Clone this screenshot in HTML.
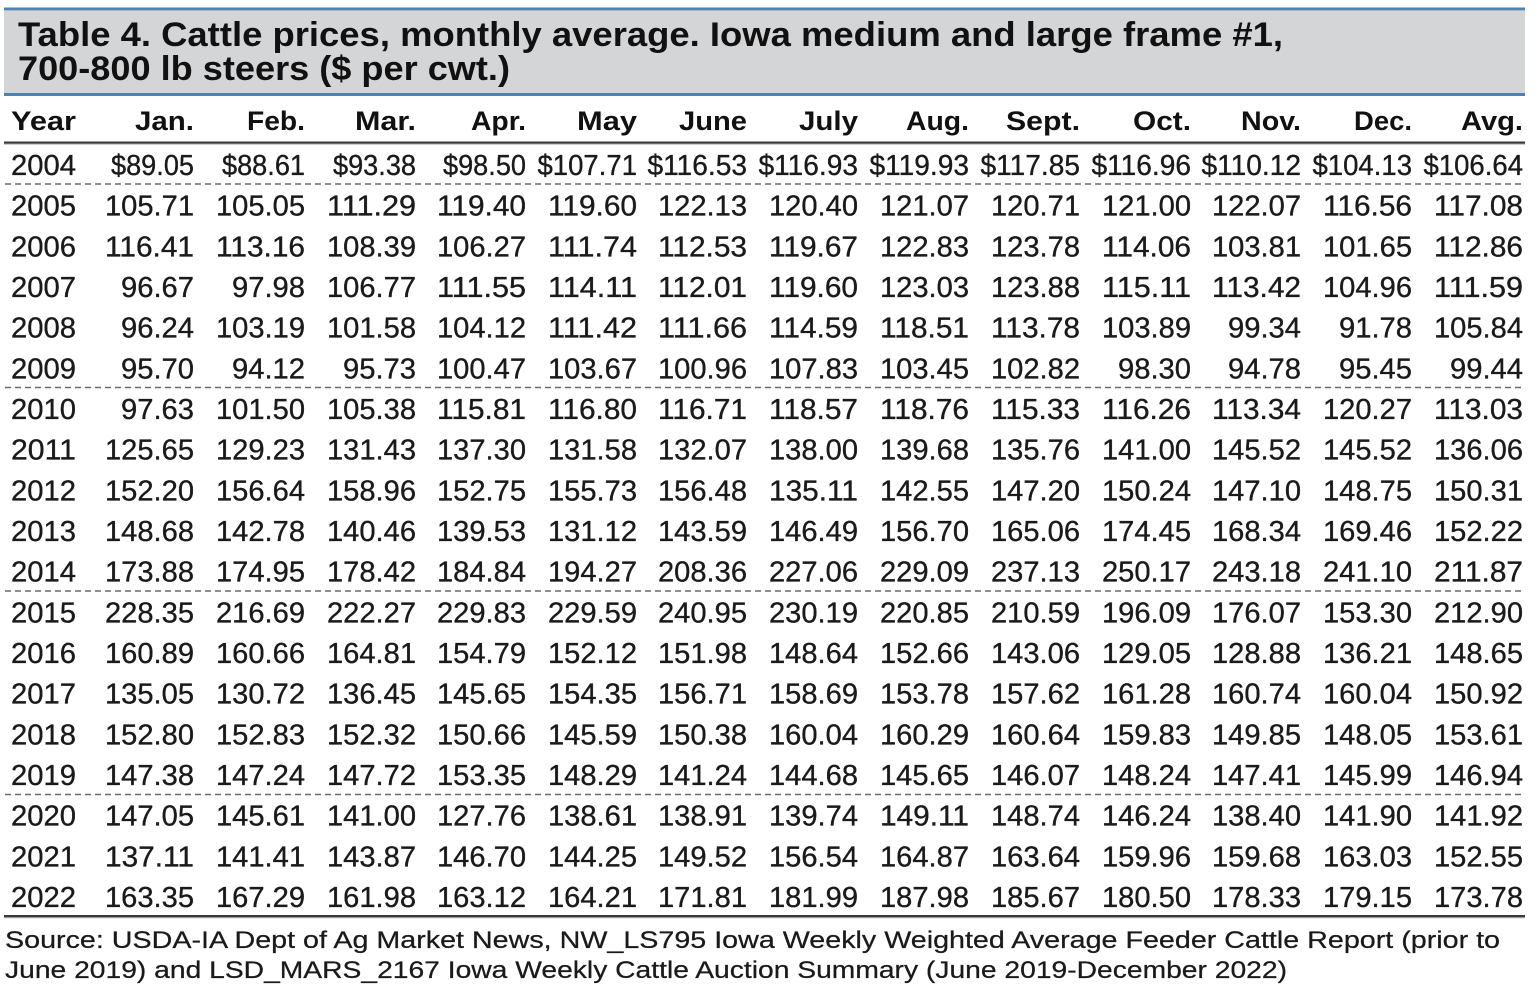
<!DOCTYPE html>
<html>
<head>
<meta charset="utf-8">
<style>
  html,body{margin:0;padding:0;background:#fff;}
  svg{display:block;}
  .t{font-family:"Liberation Sans",Arial,sans-serif;font-weight:bold;font-size:34px;fill:#111;}
  .h{font-family:"Liberation Sans",Arial,sans-serif;font-weight:bold;font-size:27px;fill:#111;text-anchor:end;}
  .hy{font-family:"Liberation Sans",Arial,sans-serif;font-weight:bold;font-size:27px;fill:#111;}
  .n{font-family:"Liberation Sans",Arial,sans-serif;font-size:29px;fill:#1a1a1a;text-anchor:end;stroke:#1a1a1a;stroke-width:0.35px;}
  .y{font-family:"Liberation Sans",Arial,sans-serif;font-size:29px;fill:#1a1a1a;stroke:#1a1a1a;stroke-width:0.35px;}
  .s{font-family:"Liberation Sans",Arial,sans-serif;font-size:24px;fill:#1a1a1a;stroke:#1a1a1a;stroke-width:0.25px;}
</style>
</head>
<body>
<svg width="1536" height="990" viewBox="0 0 1536 990" xmlns="http://www.w3.org/2000/svg">
  <rect x="0" y="0" width="1536" height="990" fill="#fff"/>
  <!-- Title band -->
  <rect x="4" y="9" width="1521" height="85" fill="#d4d5d7"/>
  <rect x="4" y="7.5" width="1521" height="2.8" fill="#4f80b2"/>
  <rect x="4" y="93" width="1521" height="3" fill="#4f80b2"/>
  <text class="t" x="18" y="46" textLength="1265" lengthAdjust="spacingAndGlyphs">Table 4. Cattle prices, monthly average. Iowa medium and large frame #1,</text>
  <text class="t" x="18" y="80" textLength="492" lengthAdjust="spacingAndGlyphs">700-800 lb steers ($ per cwt.)</text>

  <!-- Header -->
  <text class="hy" x="11" y="130" textLength="65" lengthAdjust="spacingAndGlyphs">Year</text>
  <text class="h" x="194" y="130" textLength="59" lengthAdjust="spacingAndGlyphs">Jan.</text>
  <text class="h" x="305" y="130" textLength="58" lengthAdjust="spacingAndGlyphs">Feb.</text>
  <text class="h" x="416" y="130" textLength="61" lengthAdjust="spacingAndGlyphs">Mar.</text>
  <text class="h" x="526" y="130" textLength="55" lengthAdjust="spacingAndGlyphs">Apr.</text>
  <text class="h" x="637" y="130" textLength="60" lengthAdjust="spacingAndGlyphs">May</text>
  <text class="h" x="747" y="130" textLength="68" lengthAdjust="spacingAndGlyphs">June</text>
  <text class="h" x="858" y="130" textLength="59" lengthAdjust="spacingAndGlyphs">July</text>
  <text class="h" x="969" y="130" textLength="63" lengthAdjust="spacingAndGlyphs">Aug.</text>
  <text class="h" x="1080" y="130" textLength="74" lengthAdjust="spacingAndGlyphs">Sept.</text>
  <text class="h" x="1191" y="130" textLength="58" lengthAdjust="spacingAndGlyphs">Oct.</text>
  <text class="h" x="1301" y="130" textLength="60" lengthAdjust="spacingAndGlyphs">Nov.</text>
  <text class="h" x="1412" y="130" textLength="58" lengthAdjust="spacingAndGlyphs">Dec.</text>
  <text class="h" x="1523" y="130" textLength="62" lengthAdjust="spacingAndGlyphs">Avg.</text>
  <rect x="4" y="141.5" width="1521" height="2" fill="#3a3a3a"/>
  <rect x="4" y="143.5" width="1521" height="1" fill="#9a9a9a"/>

  <!-- Dashed separators -->
  <g stroke="#6a6a6a" stroke-width="1.6" stroke-dasharray="6 4">
    <line x1="5" y1="184" x2="1525" y2="184"/>
    <line x1="5" y1="387.5" x2="1525" y2="387.5"/>
    <line x1="5" y1="591" x2="1525" y2="591"/>
    <line x1="5" y1="794.5" x2="1525" y2="794.5"/>
  </g>

  <!-- 2004 -->
  <g transform="translate(0,175)">
    <text class="y" x="11" y="0" textLength="65" lengthAdjust="spacingAndGlyphs">2004</text>
    <text class="n" x="194" textLength="83" lengthAdjust="spacingAndGlyphs">$89.05</text>
    <text class="n" x="305" textLength="83" lengthAdjust="spacingAndGlyphs">$88.61</text>
    <text class="n" x="416" textLength="83" lengthAdjust="spacingAndGlyphs">$93.38</text>
    <text class="n" x="526" textLength="83" lengthAdjust="spacingAndGlyphs">$98.50</text>
    <text class="n" x="637" textLength="99.5" lengthAdjust="spacingAndGlyphs">$107.71</text>
    <text class="n" x="747" textLength="99.5" lengthAdjust="spacingAndGlyphs">$116.53</text>
    <text class="n" x="858" textLength="99.5" lengthAdjust="spacingAndGlyphs">$116.93</text>
    <text class="n" x="969" textLength="99.5" lengthAdjust="spacingAndGlyphs">$119.93</text>
    <text class="n" x="1080" textLength="99.5" lengthAdjust="spacingAndGlyphs">$117.85</text>
    <text class="n" x="1191" textLength="99.5" lengthAdjust="spacingAndGlyphs">$116.96</text>
    <text class="n" x="1301" textLength="99.5" lengthAdjust="spacingAndGlyphs">$110.12</text>
    <text class="n" x="1412" textLength="99.5" lengthAdjust="spacingAndGlyphs">$104.13</text>
    <text class="n" x="1523" textLength="99.5" lengthAdjust="spacingAndGlyphs">$106.64</text>
  </g>
  <!-- 2005 -->
  <g transform="translate(0,215.7)">
    <text class="y" x="11" textLength="65" lengthAdjust="spacingAndGlyphs">2005</text>
    <text class="n" x="194" textLength="89" lengthAdjust="spacingAndGlyphs">105.71</text>
    <text class="n" x="305" textLength="89" lengthAdjust="spacingAndGlyphs">105.05</text>
    <text class="n" x="416" textLength="89" lengthAdjust="spacingAndGlyphs">111.29</text>
    <text class="n" x="526" textLength="89" lengthAdjust="spacingAndGlyphs">119.40</text>
    <text class="n" x="637" textLength="89" lengthAdjust="spacingAndGlyphs">119.60</text>
    <text class="n" x="747" textLength="89" lengthAdjust="spacingAndGlyphs">122.13</text>
    <text class="n" x="858" textLength="89" lengthAdjust="spacingAndGlyphs">120.40</text>
    <text class="n" x="969" textLength="89" lengthAdjust="spacingAndGlyphs">121.07</text>
    <text class="n" x="1080" textLength="89" lengthAdjust="spacingAndGlyphs">120.71</text>
    <text class="n" x="1191" textLength="89" lengthAdjust="spacingAndGlyphs">121.00</text>
    <text class="n" x="1301" textLength="89" lengthAdjust="spacingAndGlyphs">122.07</text>
    <text class="n" x="1412" textLength="89" lengthAdjust="spacingAndGlyphs">116.56</text>
    <text class="n" x="1523" textLength="89" lengthAdjust="spacingAndGlyphs">117.08</text>
  </g>
  <!-- 2006 -->
  <g transform="translate(0,256.3)">
    <text class="y" x="11" textLength="65" lengthAdjust="spacingAndGlyphs">2006</text>
    <text class="n" x="194" textLength="89" lengthAdjust="spacingAndGlyphs">116.41</text>
    <text class="n" x="305" textLength="89" lengthAdjust="spacingAndGlyphs">113.16</text>
    <text class="n" x="416" textLength="89" lengthAdjust="spacingAndGlyphs">108.39</text>
    <text class="n" x="526" textLength="89" lengthAdjust="spacingAndGlyphs">106.27</text>
    <text class="n" x="637" textLength="89" lengthAdjust="spacingAndGlyphs">111.74</text>
    <text class="n" x="747" textLength="89" lengthAdjust="spacingAndGlyphs">112.53</text>
    <text class="n" x="858" textLength="89" lengthAdjust="spacingAndGlyphs">119.67</text>
    <text class="n" x="969" textLength="89" lengthAdjust="spacingAndGlyphs">122.83</text>
    <text class="n" x="1080" textLength="89" lengthAdjust="spacingAndGlyphs">123.78</text>
    <text class="n" x="1191" textLength="89" lengthAdjust="spacingAndGlyphs">114.06</text>
    <text class="n" x="1301" textLength="89" lengthAdjust="spacingAndGlyphs">103.81</text>
    <text class="n" x="1412" textLength="89" lengthAdjust="spacingAndGlyphs">101.65</text>
    <text class="n" x="1523" textLength="89" lengthAdjust="spacingAndGlyphs">112.86</text>
  </g>
  <!-- 2007 -->
  <g transform="translate(0,297)">
    <text class="y" x="11" textLength="65" lengthAdjust="spacingAndGlyphs">2007</text>
    <text class="n" x="194" textLength="73" lengthAdjust="spacingAndGlyphs">96.67</text>
    <text class="n" x="305" textLength="73" lengthAdjust="spacingAndGlyphs">97.98</text>
    <text class="n" x="416" textLength="89" lengthAdjust="spacingAndGlyphs">106.77</text>
    <text class="n" x="526" textLength="89" lengthAdjust="spacingAndGlyphs">111.55</text>
    <text class="n" x="637" textLength="89" lengthAdjust="spacingAndGlyphs">114.11</text>
    <text class="n" x="747" textLength="89" lengthAdjust="spacingAndGlyphs">112.01</text>
    <text class="n" x="858" textLength="89" lengthAdjust="spacingAndGlyphs">119.60</text>
    <text class="n" x="969" textLength="89" lengthAdjust="spacingAndGlyphs">123.03</text>
    <text class="n" x="1080" textLength="89" lengthAdjust="spacingAndGlyphs">123.88</text>
    <text class="n" x="1191" textLength="89" lengthAdjust="spacingAndGlyphs">115.11</text>
    <text class="n" x="1301" textLength="89" lengthAdjust="spacingAndGlyphs">113.42</text>
    <text class="n" x="1412" textLength="89" lengthAdjust="spacingAndGlyphs">104.96</text>
    <text class="n" x="1523" textLength="89" lengthAdjust="spacingAndGlyphs">111.59</text>
  </g>
  <!-- 2008 -->
  <g transform="translate(0,337.7)">
    <text class="y" x="11" textLength="65" lengthAdjust="spacingAndGlyphs">2008</text>
    <text class="n" x="194" textLength="73" lengthAdjust="spacingAndGlyphs">96.24</text>
    <text class="n" x="305" textLength="89" lengthAdjust="spacingAndGlyphs">103.19</text>
    <text class="n" x="416" textLength="89" lengthAdjust="spacingAndGlyphs">101.58</text>
    <text class="n" x="526" textLength="89" lengthAdjust="spacingAndGlyphs">104.12</text>
    <text class="n" x="637" textLength="89" lengthAdjust="spacingAndGlyphs">111.42</text>
    <text class="n" x="747" textLength="89" lengthAdjust="spacingAndGlyphs">111.66</text>
    <text class="n" x="858" textLength="89" lengthAdjust="spacingAndGlyphs">114.59</text>
    <text class="n" x="969" textLength="89" lengthAdjust="spacingAndGlyphs">118.51</text>
    <text class="n" x="1080" textLength="89" lengthAdjust="spacingAndGlyphs">113.78</text>
    <text class="n" x="1191" textLength="89" lengthAdjust="spacingAndGlyphs">103.89</text>
    <text class="n" x="1301" textLength="73" lengthAdjust="spacingAndGlyphs">99.34</text>
    <text class="n" x="1412" textLength="73" lengthAdjust="spacingAndGlyphs">91.78</text>
    <text class="n" x="1523" textLength="89" lengthAdjust="spacingAndGlyphs">105.84</text>
  </g>
  <!-- 2009 -->
  <g transform="translate(0,378.3)">
    <text class="y" x="11" textLength="65" lengthAdjust="spacingAndGlyphs">2009</text>
    <text class="n" x="194" textLength="73" lengthAdjust="spacingAndGlyphs">95.70</text>
    <text class="n" x="305" textLength="73" lengthAdjust="spacingAndGlyphs">94.12</text>
    <text class="n" x="416" textLength="73" lengthAdjust="spacingAndGlyphs">95.73</text>
    <text class="n" x="526" textLength="89" lengthAdjust="spacingAndGlyphs">100.47</text>
    <text class="n" x="637" textLength="89" lengthAdjust="spacingAndGlyphs">103.67</text>
    <text class="n" x="747" textLength="89" lengthAdjust="spacingAndGlyphs">100.96</text>
    <text class="n" x="858" textLength="89" lengthAdjust="spacingAndGlyphs">107.83</text>
    <text class="n" x="969" textLength="89" lengthAdjust="spacingAndGlyphs">103.45</text>
    <text class="n" x="1080" textLength="89" lengthAdjust="spacingAndGlyphs">102.82</text>
    <text class="n" x="1191" textLength="73" lengthAdjust="spacingAndGlyphs">98.30</text>
    <text class="n" x="1301" textLength="73" lengthAdjust="spacingAndGlyphs">94.78</text>
    <text class="n" x="1412" textLength="73" lengthAdjust="spacingAndGlyphs">95.45</text>
    <text class="n" x="1523" textLength="73" lengthAdjust="spacingAndGlyphs">99.44</text>
  </g>
  <!-- 2010 -->
  <g transform="translate(0,419)">
    <text class="y" x="11" textLength="65" lengthAdjust="spacingAndGlyphs">2010</text>
    <text class="n" x="194" textLength="73" lengthAdjust="spacingAndGlyphs">97.63</text>
    <text class="n" x="305" textLength="89" lengthAdjust="spacingAndGlyphs">101.50</text>
    <text class="n" x="416" textLength="89" lengthAdjust="spacingAndGlyphs">105.38</text>
    <text class="n" x="526" textLength="89" lengthAdjust="spacingAndGlyphs">115.81</text>
    <text class="n" x="637" textLength="89" lengthAdjust="spacingAndGlyphs">116.80</text>
    <text class="n" x="747" textLength="89" lengthAdjust="spacingAndGlyphs">116.71</text>
    <text class="n" x="858" textLength="89" lengthAdjust="spacingAndGlyphs">118.57</text>
    <text class="n" x="969" textLength="89" lengthAdjust="spacingAndGlyphs">118.76</text>
    <text class="n" x="1080" textLength="89" lengthAdjust="spacingAndGlyphs">115.33</text>
    <text class="n" x="1191" textLength="89" lengthAdjust="spacingAndGlyphs">116.26</text>
    <text class="n" x="1301" textLength="89" lengthAdjust="spacingAndGlyphs">113.34</text>
    <text class="n" x="1412" textLength="89" lengthAdjust="spacingAndGlyphs">120.27</text>
    <text class="n" x="1523" textLength="89" lengthAdjust="spacingAndGlyphs">113.03</text>
  </g>
  <!-- 2011 -->
  <g transform="translate(0,459.7)">
    <text class="y" x="11" textLength="65" lengthAdjust="spacingAndGlyphs">2011</text>
    <text class="n" x="194" textLength="89" lengthAdjust="spacingAndGlyphs">125.65</text>
    <text class="n" x="305" textLength="89" lengthAdjust="spacingAndGlyphs">129.23</text>
    <text class="n" x="416" textLength="89" lengthAdjust="spacingAndGlyphs">131.43</text>
    <text class="n" x="526" textLength="89" lengthAdjust="spacingAndGlyphs">137.30</text>
    <text class="n" x="637" textLength="89" lengthAdjust="spacingAndGlyphs">131.58</text>
    <text class="n" x="747" textLength="89" lengthAdjust="spacingAndGlyphs">132.07</text>
    <text class="n" x="858" textLength="89" lengthAdjust="spacingAndGlyphs">138.00</text>
    <text class="n" x="969" textLength="89" lengthAdjust="spacingAndGlyphs">139.68</text>
    <text class="n" x="1080" textLength="89" lengthAdjust="spacingAndGlyphs">135.76</text>
    <text class="n" x="1191" textLength="89" lengthAdjust="spacingAndGlyphs">141.00</text>
    <text class="n" x="1301" textLength="89" lengthAdjust="spacingAndGlyphs">145.52</text>
    <text class="n" x="1412" textLength="89" lengthAdjust="spacingAndGlyphs">145.52</text>
    <text class="n" x="1523" textLength="89" lengthAdjust="spacingAndGlyphs">136.06</text>
  </g>
  <!-- 2012 -->
  <g transform="translate(0,500.4)">
    <text class="y" x="11" textLength="65" lengthAdjust="spacingAndGlyphs">2012</text>
    <text class="n" x="194" textLength="89" lengthAdjust="spacingAndGlyphs">152.20</text>
    <text class="n" x="305" textLength="89" lengthAdjust="spacingAndGlyphs">156.64</text>
    <text class="n" x="416" textLength="89" lengthAdjust="spacingAndGlyphs">158.96</text>
    <text class="n" x="526" textLength="89" lengthAdjust="spacingAndGlyphs">152.75</text>
    <text class="n" x="637" textLength="89" lengthAdjust="spacingAndGlyphs">155.73</text>
    <text class="n" x="747" textLength="89" lengthAdjust="spacingAndGlyphs">156.48</text>
    <text class="n" x="858" textLength="89" lengthAdjust="spacingAndGlyphs">135.11</text>
    <text class="n" x="969" textLength="89" lengthAdjust="spacingAndGlyphs">142.55</text>
    <text class="n" x="1080" textLength="89" lengthAdjust="spacingAndGlyphs">147.20</text>
    <text class="n" x="1191" textLength="89" lengthAdjust="spacingAndGlyphs">150.24</text>
    <text class="n" x="1301" textLength="89" lengthAdjust="spacingAndGlyphs">147.10</text>
    <text class="n" x="1412" textLength="89" lengthAdjust="spacingAndGlyphs">148.75</text>
    <text class="n" x="1523" textLength="89" lengthAdjust="spacingAndGlyphs">150.31</text>
  </g>
  <!-- 2013 -->
  <g transform="translate(0,541)">
    <text class="y" x="11" textLength="65" lengthAdjust="spacingAndGlyphs">2013</text>
    <text class="n" x="194" textLength="89" lengthAdjust="spacingAndGlyphs">148.68</text>
    <text class="n" x="305" textLength="89" lengthAdjust="spacingAndGlyphs">142.78</text>
    <text class="n" x="416" textLength="89" lengthAdjust="spacingAndGlyphs">140.46</text>
    <text class="n" x="526" textLength="89" lengthAdjust="spacingAndGlyphs">139.53</text>
    <text class="n" x="637" textLength="89" lengthAdjust="spacingAndGlyphs">131.12</text>
    <text class="n" x="747" textLength="89" lengthAdjust="spacingAndGlyphs">143.59</text>
    <text class="n" x="858" textLength="89" lengthAdjust="spacingAndGlyphs">146.49</text>
    <text class="n" x="969" textLength="89" lengthAdjust="spacingAndGlyphs">156.70</text>
    <text class="n" x="1080" textLength="89" lengthAdjust="spacingAndGlyphs">165.06</text>
    <text class="n" x="1191" textLength="89" lengthAdjust="spacingAndGlyphs">174.45</text>
    <text class="n" x="1301" textLength="89" lengthAdjust="spacingAndGlyphs">168.34</text>
    <text class="n" x="1412" textLength="89" lengthAdjust="spacingAndGlyphs">169.46</text>
    <text class="n" x="1523" textLength="89" lengthAdjust="spacingAndGlyphs">152.22</text>
  </g>
  <!-- 2014 -->
  <g transform="translate(0,581.7)">
    <text class="y" x="11" textLength="65" lengthAdjust="spacingAndGlyphs">2014</text>
    <text class="n" x="194" textLength="89" lengthAdjust="spacingAndGlyphs">173.88</text>
    <text class="n" x="305" textLength="89" lengthAdjust="spacingAndGlyphs">174.95</text>
    <text class="n" x="416" textLength="89" lengthAdjust="spacingAndGlyphs">178.42</text>
    <text class="n" x="526" textLength="89" lengthAdjust="spacingAndGlyphs">184.84</text>
    <text class="n" x="637" textLength="89" lengthAdjust="spacingAndGlyphs">194.27</text>
    <text class="n" x="747" textLength="89" lengthAdjust="spacingAndGlyphs">208.36</text>
    <text class="n" x="858" textLength="89" lengthAdjust="spacingAndGlyphs">227.06</text>
    <text class="n" x="969" textLength="89" lengthAdjust="spacingAndGlyphs">229.09</text>
    <text class="n" x="1080" textLength="89" lengthAdjust="spacingAndGlyphs">237.13</text>
    <text class="n" x="1191" textLength="89" lengthAdjust="spacingAndGlyphs">250.17</text>
    <text class="n" x="1301" textLength="89" lengthAdjust="spacingAndGlyphs">243.18</text>
    <text class="n" x="1412" textLength="89" lengthAdjust="spacingAndGlyphs">241.10</text>
    <text class="n" x="1523" textLength="89" lengthAdjust="spacingAndGlyphs">211.87</text>
  </g>
  <!-- 2015 -->
  <g transform="translate(0,622.4)">
    <text class="y" x="11" textLength="65" lengthAdjust="spacingAndGlyphs">2015</text>
    <text class="n" x="194" textLength="89" lengthAdjust="spacingAndGlyphs">228.35</text>
    <text class="n" x="305" textLength="89" lengthAdjust="spacingAndGlyphs">216.69</text>
    <text class="n" x="416" textLength="89" lengthAdjust="spacingAndGlyphs">222.27</text>
    <text class="n" x="526" textLength="89" lengthAdjust="spacingAndGlyphs">229.83</text>
    <text class="n" x="637" textLength="89" lengthAdjust="spacingAndGlyphs">229.59</text>
    <text class="n" x="747" textLength="89" lengthAdjust="spacingAndGlyphs">240.95</text>
    <text class="n" x="858" textLength="89" lengthAdjust="spacingAndGlyphs">230.19</text>
    <text class="n" x="969" textLength="89" lengthAdjust="spacingAndGlyphs">220.85</text>
    <text class="n" x="1080" textLength="89" lengthAdjust="spacingAndGlyphs">210.59</text>
    <text class="n" x="1191" textLength="89" lengthAdjust="spacingAndGlyphs">196.09</text>
    <text class="n" x="1301" textLength="89" lengthAdjust="spacingAndGlyphs">176.07</text>
    <text class="n" x="1412" textLength="89" lengthAdjust="spacingAndGlyphs">153.30</text>
    <text class="n" x="1523" textLength="89" lengthAdjust="spacingAndGlyphs">212.90</text>
  </g>
  <!-- 2016 -->
  <g transform="translate(0,663)">
    <text class="y" x="11" textLength="65" lengthAdjust="spacingAndGlyphs">2016</text>
    <text class="n" x="194" textLength="89" lengthAdjust="spacingAndGlyphs">160.89</text>
    <text class="n" x="305" textLength="89" lengthAdjust="spacingAndGlyphs">160.66</text>
    <text class="n" x="416" textLength="89" lengthAdjust="spacingAndGlyphs">164.81</text>
    <text class="n" x="526" textLength="89" lengthAdjust="spacingAndGlyphs">154.79</text>
    <text class="n" x="637" textLength="89" lengthAdjust="spacingAndGlyphs">152.12</text>
    <text class="n" x="747" textLength="89" lengthAdjust="spacingAndGlyphs">151.98</text>
    <text class="n" x="858" textLength="89" lengthAdjust="spacingAndGlyphs">148.64</text>
    <text class="n" x="969" textLength="89" lengthAdjust="spacingAndGlyphs">152.66</text>
    <text class="n" x="1080" textLength="89" lengthAdjust="spacingAndGlyphs">143.06</text>
    <text class="n" x="1191" textLength="89" lengthAdjust="spacingAndGlyphs">129.05</text>
    <text class="n" x="1301" textLength="89" lengthAdjust="spacingAndGlyphs">128.88</text>
    <text class="n" x="1412" textLength="89" lengthAdjust="spacingAndGlyphs">136.21</text>
    <text class="n" x="1523" textLength="89" lengthAdjust="spacingAndGlyphs">148.65</text>
  </g>
  <!-- 2017 -->
  <g transform="translate(0,703.7)">
    <text class="y" x="11" textLength="65" lengthAdjust="spacingAndGlyphs">2017</text>
    <text class="n" x="194" textLength="89" lengthAdjust="spacingAndGlyphs">135.05</text>
    <text class="n" x="305" textLength="89" lengthAdjust="spacingAndGlyphs">130.72</text>
    <text class="n" x="416" textLength="89" lengthAdjust="spacingAndGlyphs">136.45</text>
    <text class="n" x="526" textLength="89" lengthAdjust="spacingAndGlyphs">145.65</text>
    <text class="n" x="637" textLength="89" lengthAdjust="spacingAndGlyphs">154.35</text>
    <text class="n" x="747" textLength="89" lengthAdjust="spacingAndGlyphs">156.71</text>
    <text class="n" x="858" textLength="89" lengthAdjust="spacingAndGlyphs">158.69</text>
    <text class="n" x="969" textLength="89" lengthAdjust="spacingAndGlyphs">153.78</text>
    <text class="n" x="1080" textLength="89" lengthAdjust="spacingAndGlyphs">157.62</text>
    <text class="n" x="1191" textLength="89" lengthAdjust="spacingAndGlyphs">161.28</text>
    <text class="n" x="1301" textLength="89" lengthAdjust="spacingAndGlyphs">160.74</text>
    <text class="n" x="1412" textLength="89" lengthAdjust="spacingAndGlyphs">160.04</text>
    <text class="n" x="1523" textLength="89" lengthAdjust="spacingAndGlyphs">150.92</text>
  </g>
  <!-- 2018 -->
  <g transform="translate(0,744.4)">
    <text class="y" x="11" textLength="65" lengthAdjust="spacingAndGlyphs">2018</text>
    <text class="n" x="194" textLength="89" lengthAdjust="spacingAndGlyphs">152.80</text>
    <text class="n" x="305" textLength="89" lengthAdjust="spacingAndGlyphs">152.83</text>
    <text class="n" x="416" textLength="89" lengthAdjust="spacingAndGlyphs">152.32</text>
    <text class="n" x="526" textLength="89" lengthAdjust="spacingAndGlyphs">150.66</text>
    <text class="n" x="637" textLength="89" lengthAdjust="spacingAndGlyphs">145.59</text>
    <text class="n" x="747" textLength="89" lengthAdjust="spacingAndGlyphs">150.38</text>
    <text class="n" x="858" textLength="89" lengthAdjust="spacingAndGlyphs">160.04</text>
    <text class="n" x="969" textLength="89" lengthAdjust="spacingAndGlyphs">160.29</text>
    <text class="n" x="1080" textLength="89" lengthAdjust="spacingAndGlyphs">160.64</text>
    <text class="n" x="1191" textLength="89" lengthAdjust="spacingAndGlyphs">159.83</text>
    <text class="n" x="1301" textLength="89" lengthAdjust="spacingAndGlyphs">149.85</text>
    <text class="n" x="1412" textLength="89" lengthAdjust="spacingAndGlyphs">148.05</text>
    <text class="n" x="1523" textLength="89" lengthAdjust="spacingAndGlyphs">153.61</text>
  </g>
  <!-- 2019 -->
  <g transform="translate(0,785)">
    <text class="y" x="11" textLength="65" lengthAdjust="spacingAndGlyphs">2019</text>
    <text class="n" x="194" textLength="89" lengthAdjust="spacingAndGlyphs">147.38</text>
    <text class="n" x="305" textLength="89" lengthAdjust="spacingAndGlyphs">147.24</text>
    <text class="n" x="416" textLength="89" lengthAdjust="spacingAndGlyphs">147.72</text>
    <text class="n" x="526" textLength="89" lengthAdjust="spacingAndGlyphs">153.35</text>
    <text class="n" x="637" textLength="89" lengthAdjust="spacingAndGlyphs">148.29</text>
    <text class="n" x="747" textLength="89" lengthAdjust="spacingAndGlyphs">141.24</text>
    <text class="n" x="858" textLength="89" lengthAdjust="spacingAndGlyphs">144.68</text>
    <text class="n" x="969" textLength="89" lengthAdjust="spacingAndGlyphs">145.65</text>
    <text class="n" x="1080" textLength="89" lengthAdjust="spacingAndGlyphs">146.07</text>
    <text class="n" x="1191" textLength="89" lengthAdjust="spacingAndGlyphs">148.24</text>
    <text class="n" x="1301" textLength="89" lengthAdjust="spacingAndGlyphs">147.41</text>
    <text class="n" x="1412" textLength="89" lengthAdjust="spacingAndGlyphs">145.99</text>
    <text class="n" x="1523" textLength="89" lengthAdjust="spacingAndGlyphs">146.94</text>
  </g>
  <!-- 2020 -->
  <g transform="translate(0,825.7)">
    <text class="y" x="11" textLength="65" lengthAdjust="spacingAndGlyphs">2020</text>
    <text class="n" x="194" textLength="89" lengthAdjust="spacingAndGlyphs">147.05</text>
    <text class="n" x="305" textLength="89" lengthAdjust="spacingAndGlyphs">145.61</text>
    <text class="n" x="416" textLength="89" lengthAdjust="spacingAndGlyphs">141.00</text>
    <text class="n" x="526" textLength="89" lengthAdjust="spacingAndGlyphs">127.76</text>
    <text class="n" x="637" textLength="89" lengthAdjust="spacingAndGlyphs">138.61</text>
    <text class="n" x="747" textLength="89" lengthAdjust="spacingAndGlyphs">138.91</text>
    <text class="n" x="858" textLength="89" lengthAdjust="spacingAndGlyphs">139.74</text>
    <text class="n" x="969" textLength="89" lengthAdjust="spacingAndGlyphs">149.11</text>
    <text class="n" x="1080" textLength="89" lengthAdjust="spacingAndGlyphs">148.74</text>
    <text class="n" x="1191" textLength="89" lengthAdjust="spacingAndGlyphs">146.24</text>
    <text class="n" x="1301" textLength="89" lengthAdjust="spacingAndGlyphs">138.40</text>
    <text class="n" x="1412" textLength="89" lengthAdjust="spacingAndGlyphs">141.90</text>
    <text class="n" x="1523" textLength="89" lengthAdjust="spacingAndGlyphs">141.92</text>
  </g>
  <!-- 2021 -->
  <g transform="translate(0,866.4)">
    <text class="y" x="11" textLength="65" lengthAdjust="spacingAndGlyphs">2021</text>
    <text class="n" x="194" textLength="89" lengthAdjust="spacingAndGlyphs">137.11</text>
    <text class="n" x="305" textLength="89" lengthAdjust="spacingAndGlyphs">141.41</text>
    <text class="n" x="416" textLength="89" lengthAdjust="spacingAndGlyphs">143.87</text>
    <text class="n" x="526" textLength="89" lengthAdjust="spacingAndGlyphs">146.70</text>
    <text class="n" x="637" textLength="89" lengthAdjust="spacingAndGlyphs">144.25</text>
    <text class="n" x="747" textLength="89" lengthAdjust="spacingAndGlyphs">149.52</text>
    <text class="n" x="858" textLength="89" lengthAdjust="spacingAndGlyphs">156.54</text>
    <text class="n" x="969" textLength="89" lengthAdjust="spacingAndGlyphs">164.87</text>
    <text class="n" x="1080" textLength="89" lengthAdjust="spacingAndGlyphs">163.64</text>
    <text class="n" x="1191" textLength="89" lengthAdjust="spacingAndGlyphs">159.96</text>
    <text class="n" x="1301" textLength="89" lengthAdjust="spacingAndGlyphs">159.68</text>
    <text class="n" x="1412" textLength="89" lengthAdjust="spacingAndGlyphs">163.03</text>
    <text class="n" x="1523" textLength="89" lengthAdjust="spacingAndGlyphs">152.55</text>
  </g>
  <!-- 2022 -->
  <g transform="translate(0,907)">
    <text class="y" x="11" textLength="65" lengthAdjust="spacingAndGlyphs">2022</text>
    <text class="n" x="194" textLength="89" lengthAdjust="spacingAndGlyphs">163.35</text>
    <text class="n" x="305" textLength="89" lengthAdjust="spacingAndGlyphs">167.29</text>
    <text class="n" x="416" textLength="89" lengthAdjust="spacingAndGlyphs">161.98</text>
    <text class="n" x="526" textLength="89" lengthAdjust="spacingAndGlyphs">163.12</text>
    <text class="n" x="637" textLength="89" lengthAdjust="spacingAndGlyphs">164.21</text>
    <text class="n" x="747" textLength="89" lengthAdjust="spacingAndGlyphs">171.81</text>
    <text class="n" x="858" textLength="89" lengthAdjust="spacingAndGlyphs">181.99</text>
    <text class="n" x="969" textLength="89" lengthAdjust="spacingAndGlyphs">187.98</text>
    <text class="n" x="1080" textLength="89" lengthAdjust="spacingAndGlyphs">185.67</text>
    <text class="n" x="1191" textLength="89" lengthAdjust="spacingAndGlyphs">180.50</text>
    <text class="n" x="1301" textLength="89" lengthAdjust="spacingAndGlyphs">178.33</text>
    <text class="n" x="1412" textLength="89" lengthAdjust="spacingAndGlyphs">179.15</text>
    <text class="n" x="1523" textLength="89" lengthAdjust="spacingAndGlyphs">173.78</text>
  </g>

  <!-- Bottom rule -->
  <rect x="4" y="915" width="1521" height="2" fill="#3a3a3a"/>
  <rect x="4" y="917" width="1521" height="1.2" fill="#9a9a9a"/>

  <!-- Source -->
  <text class="s" x="5" y="948" textLength="1495" lengthAdjust="spacingAndGlyphs">Source: USDA-IA Dept of Ag Market News, NW_LS795 Iowa Weekly Weighted Average Feeder Cattle Report (prior to</text>
  <text class="s" x="5" y="978" textLength="1282" lengthAdjust="spacingAndGlyphs">June 2019) and LSD_MARS_2167 Iowa Weekly Cattle Auction Summary (June 2019-December 2022)</text>
</svg>
</body>
</html>
